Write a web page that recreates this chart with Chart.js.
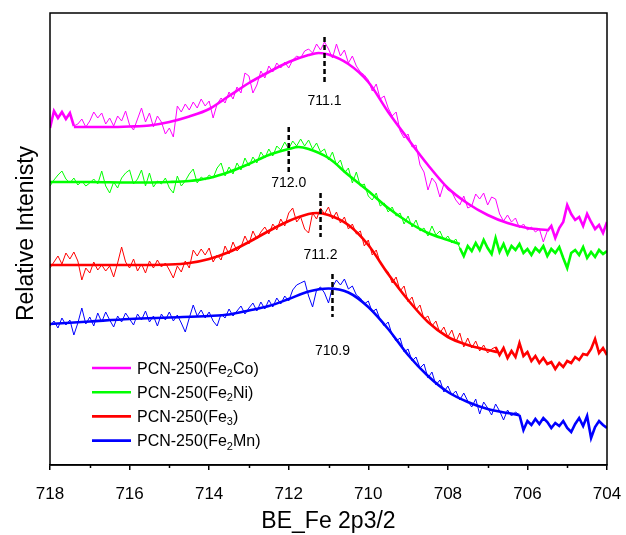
<!DOCTYPE html>
<html>
<head>
<meta charset="utf-8">
<title>Fe 2p3/2 spectra of PCN-250 samples</title>
<script src="https://cdn.jsdelivr.net/npm/chart.js@4/dist/chart.umd.min.js"></script>
<style>
  html, body { margin: 0; padding: 0; background: #ffffff; }
  #wrap { width: 626px; height: 535px; }
</style>
</head>
<body>
<div id="wrap"><canvas id="c" width="626" height="535"></canvas></div>
<script>
// Binding-energy grid of the scans (eV), 0.1 eV steps
const BE = [
  718.0, 717.9, 717.8, 717.7, 717.6, 717.5, 717.4, 717.3, 717.2, 717.1,
  717.0, 716.9, 716.8, 716.7, 716.6, 716.5, 716.4, 716.3, 716.2, 716.1,
  716.0, 715.9, 715.8, 715.7, 715.6, 715.5, 715.4, 715.3, 715.2, 715.1,
  715.0, 714.9, 714.8, 714.7, 714.6, 714.5, 714.4, 714.3, 714.2, 714.1,
  714.0, 713.9, 713.8, 713.7, 713.6, 713.5, 713.4, 713.3, 713.2, 713.1,
  713.0, 712.9, 712.8, 712.7, 712.6, 712.5, 712.4, 712.3, 712.2, 712.1,
  712.0, 711.9, 711.8, 711.7, 711.6, 711.5, 711.4, 711.3, 711.2, 711.1,
  711.0, 710.9, 710.8, 710.7, 710.6, 710.5, 710.4, 710.3, 710.2, 710.1,
  710.0, 709.9, 709.8, 709.7, 709.6, 709.5, 709.4, 709.3, 709.2, 709.1,
  709.0, 708.9, 708.8, 708.7, 708.6, 708.5, 708.4, 708.3, 708.2, 708.1,
  708.0, 707.9, 707.8, 707.7, 707.6, 707.5, 707.4, 707.3, 707.2, 707.1,
  707.0, 706.9, 706.8, 706.7, 706.6, 706.5, 706.4, 706.3, 706.2, 706.1,
  706.0, 705.9, 705.8, 705.7, 705.6, 705.5, 705.4, 705.3, 705.2, 705.1,
  705.0, 704.9, 704.8, 704.7, 704.6, 704.5, 704.4, 704.3, 704.2, 704.1,
  704.0
];

// Measured spectra (stacked, arbitrary units)
const coRaw = [
  372, 389, 382, 388, 381, 387, 374, 376, 381, 373,
  379, 388, 382, 387, 376, 382, 374, 384, 379, 389,
  375, 370, 381, 392, 378, 387, 373, 384, 378, 366,
  372, 363, 394, 388, 396, 390, 398, 392, 401, 394,
  399, 382, 396, 402, 397, 408, 401, 413, 407, 427,
  424, 407, 415, 429, 422, 434, 428, 437, 432, 438,
  432, 440, 444, 442, 449, 451, 447, 456, 450, 458,
  451, 442, 456, 444, 450, 437, 444, 434, 428, 425,
  420, 409, 416, 401, 404, 392, 384, 388, 369, 362,
  366, 353, 355, 335, 328, 310, 322, 317, 303, 316,
  310, 308, 300, 295, 304, 292, 294, 306, 301, 307,
  295, 303, 301, 286, 279, 285, 278, 282, 272, 276,
  270, 273, 268, 271, 258, 269, 274, 262, 272, 278,
  295, 286, 280, 283, 274, 286, 278, 271, 275, 267,
  278
];
const niRaw = [
  314, 320, 325, 329, 321, 317, 322, 315, 319, 314,
  317, 321, 316, 329, 314, 307, 318, 312, 322, 327,
  330, 316, 321, 330, 314, 327, 313, 319, 316, 322,
  312, 307, 324, 314, 319, 326, 331, 317, 323, 320,
  325, 322, 332, 337, 324, 333, 326, 337, 330, 342,
  334, 343, 337, 348, 342, 351, 344, 354, 350, 358,
  351, 359, 354, 361, 354, 360, 351, 357, 348, 351,
  340, 348, 335, 340, 327, 332, 317, 328, 314, 316,
  304, 300, 307, 294, 297, 288, 293, 284, 287, 276,
  284, 273, 280, 269, 272, 264, 274, 265, 269, 260,
  264, 257, 261, 252, 244, 254, 249, 257, 250, 260,
  252, 246, 262, 248, 256, 246, 254, 250, 256, 247,
  251, 245, 252, 248, 254, 244, 251, 247, 253, 242,
  232, 247, 250, 245, 253, 242, 248, 243, 250, 246,
  249
];
const fe3Raw = [
  232, 238, 244, 236, 247, 241, 248, 239, 220, 232,
  227, 238, 230, 235, 229, 234, 223, 237, 253, 238,
  232, 241, 229, 236, 227, 239, 232, 240, 233, 237,
  230, 222, 234, 228, 239, 232, 250, 244, 251, 245,
  252, 238, 245, 240, 254, 246, 258, 249, 253, 264,
  256, 269, 261, 268, 273, 266, 276, 270, 281, 274,
  287, 292, 278, 283, 271, 267, 287, 281, 292, 286,
  293, 281, 288, 277, 283, 271, 276, 266, 269, 254,
  260, 245, 250, 237, 232, 228, 217, 223, 209, 214,
  198, 203, 190, 195, 181, 184, 174, 179, 167, 173,
  163, 170, 158, 167, 153, 162, 152, 159, 149, 155,
  147, 151, 153, 145, 152, 142, 149, 143, 157, 144,
  148, 139, 144, 137, 142, 136, 138, 131, 137, 133,
  139, 137, 143, 140, 146, 145, 151, 161, 147, 152,
  145
];
const mnRaw = [
  174, 179, 172, 182, 175, 180, 165, 177, 192, 176,
  183, 174, 187, 178, 188, 180, 173, 184, 178, 187,
  181, 175, 186, 180, 189, 178, 184, 174, 186, 180,
  188, 179, 185, 177, 168, 182, 195, 184, 190, 182,
  188, 179, 174, 186, 182, 191, 184, 189, 194, 186,
  192, 197, 189, 198, 191, 200, 193, 202, 196, 204,
  199, 210, 215, 217, 219, 204, 193, 210, 213, 207,
  197, 213, 220, 215, 221, 211, 214, 205, 202, 196,
  199, 188, 191, 180, 174, 178, 165, 159, 162, 148,
  151, 139, 143, 132, 136, 122, 128, 115, 120, 108,
  114, 105, 109, 100, 107, 99, 93, 101, 86, 98,
  92, 85, 96, 89, 80, 90, 84, 88, 85, 70,
  79, 75, 81, 76, 82, 78, 72, 77, 74, 79,
  72, 68, 76, 82, 74, 84, 62, 73, 79, 75,
  72
];

// Fitted envelopes (BE, intensity)
const coFitBE = [717.4, 717.0, 716.5, 716.0, 715.5, 715.0, 714.5, 714.0, 713.5, 713.0, 712.5, 712.0, 711.5, 711.25, 711.0, 710.5, 710.0, 709.5, 709.0, 708.5, 708.0, 707.5, 707.0, 706.5, 706.0, 705.5];
const coFit   = [373, 373, 373, 373.5, 374.5, 378, 383.5, 391, 404, 417, 428, 438, 445, 447, 445.5, 436, 418, 388, 361, 335, 312, 296.5, 285, 277, 272, 270];
const niFitBE = [718.0, 717.0, 716.0, 715.0, 714.5, 714.0, 713.5, 713.0, 712.5, 712.0, 711.75, 711.5, 711.0, 710.5, 710.0, 709.5, 709.0, 708.5, 708.0, 707.7];
const niFit   = [318, 318, 317.5, 318, 319, 322, 328, 336, 345, 351, 353, 351, 342, 325, 309, 292, 278, 267, 260, 256];
const fe3FitBE = [718.0, 717.0, 716.0, 715.0, 714.5, 714.0, 713.5, 713.0, 712.5, 712.0, 711.5, 711.3, 711.0, 710.5, 710.0, 709.5, 709.0, 708.5, 708.0, 707.5, 707.0, 706.75];
const fe3Fit   = [235, 235, 235, 235.5, 237, 241, 248, 258, 269, 279, 286, 287, 285, 275, 255, 226, 200, 178, 163, 155, 150, 148];
const mnFitBE = [718.0, 717.0, 716.0, 715.0, 714.0, 713.5, 713.0, 712.5, 712.0, 711.5, 711.0, 710.5, 710.0, 709.5, 709.0, 708.5, 708.0, 707.5, 707.0, 706.5, 706.2];
const mnFit   = [176, 178.5, 181, 182.5, 184, 185.5, 189.5, 194, 201, 208.5, 211.5, 207.5, 193, 171, 145, 124, 108, 98, 91, 87, 85];

// Sample names and colours
const sampleNames  = ['PCN-250(Fe₂Co)', 'PCN-250(Fe₂Ni)', 'PCN-250(Fe₃)', 'PCN-250(Fe₂Mn)'];
const sampleColors = ['#FF00FF', '#00FF00', '#FF0000', '#0000FF'];

// Fe 2p3/2 peak positions (eV)
const peakBE = [711.1, 712.0, 711.2, 710.9];

// Axis ticks and titles
const majorTickStep = 2;
const minorTickBE = [717, 715, 713, 711, 709, 707, 705];
const xTitle = 'BE_Fe 2p3/2';
const yTitle = 'Relative Intenisty';

// Vertical extent of each peak marker and height of its label (intensity units)
const markerTop    = [463, 373, 307, 226];
const markerBottom = [418, 327, 263, 183];
const markerLabelY = [399, 317, 245, 149];

const FONT = "Arial, 'Liberation Sans', sans-serif";

const rawSets = [coRaw, niRaw, fe3Raw, mnRaw];
const fitBESets = [coFitBE, niFitBE, fe3FitBE, mnFitBE];
const fitSets = [coFit, niFit, fe3Fit, mnFit];

const datasets = [];

// Peak markers (dashed verticals)
peakBE.forEach((pe, i) => {
  datasets.push({
    label: 'peak ' + pe.toFixed(1),
    data: [{ x: pe, y: markerTop[i] }, { x: pe, y: markerBottom[i] }],
    borderColor: '#000000',
    borderWidth: 2.5,
    borderDash: [5, 3],
    borderCapStyle: 'butt',
    pointRadius: 0,
    fill: false
  });
});

sampleNames.forEach((name, s) => {
  const raw = rawSets[s];
  const fBE = fitBESets[s];
  const lo = Math.min(...fBE) - 1e-6;
  const hi = Math.max(...fBE) + 1e-6;
  const inside = e => e >= lo && e <= hi;

  // fitted curve
  datasets.push({
    label: name + ' fit',
    data: fBE.map((e, i) => ({ x: e, y: fitSets[s][i] })),
    borderColor: sampleColors[s],
    borderWidth: 2.6,
    cubicInterpolationMode: 'monotone',
    pointRadius: 0,
    fill: false
  });
  // raw data under the fit: thin line
  datasets.push({
    label: name,
    data: BE.map((e, i) => ({ x: e, y: inside(e) ? raw[i] : null })),
    borderColor: sampleColors[s],
    borderWidth: 1,
    tension: 0,
    spanGaps: false,
    pointRadius: 0,
    fill: false
  });
  // raw data outside the fitted window: heavy line
  datasets.push({
    label: name + ' tail',
    data: BE.map((e, i) => {
      const keep = !inside(e) ||
        (i > 0 && !inside(BE[i - 1])) ||
        (i < BE.length - 1 && !inside(BE[i + 1]));
      return { x: e, y: keep ? raw[i] : null };
    }),
    borderColor: sampleColors[s],
    borderWidth: 2.6,
    tension: 0,
    spanGaps: false,
    pointRadius: 0,
    fill: false
  });
});

// Draws text where Unicode subscript digits are rendered as smaller, lowered digits
function drawSubscripted(ctx, text, x, yBase, size) {
  const runs = [];
  for (const ch of text) {
    const code = ch.codePointAt(0);
    const sub = code >= 0x2080 && code <= 0x2089;
    const c = sub ? String.fromCharCode(48 + code - 0x2080) : ch;
    const last = runs[runs.length - 1];
    if (last && last.sub === sub) last.t += c; else runs.push({ t: c, sub });
  }
  let cx = x;
  for (const r of runs) {
    const fs = r.sub ? Math.round(size * 0.66) : size;
    ctx.font = fs + 'px ' + FONT;
    ctx.fillText(r.t, cx, yBase + (r.sub ? size * 0.2 : 0));
    cx += ctx.measureText(r.t).width;
  }
}

const decor = {
  id: 'decor',
  afterDraw(chart) {
    const { ctx, chartArea: a, scales: { x, y } } = chart;
    ctx.save();

    // frame
    ctx.strokeStyle = '#000000';
    ctx.lineWidth = 1.5;
    ctx.strokeRect(a.left, a.top, a.right - a.left, a.bottom - a.top);

    // minor ticks on the energy axis
    minorTickBE.forEach(v => {
      const px = Math.round(x.getPixelForValue(v)) + 0.5;
      ctx.beginPath();
      ctx.moveTo(px, a.bottom);
      ctx.lineTo(px, a.bottom + 3);
      ctx.stroke();
    });

    // intensity axis title, rotated
    ctx.save();
    ctx.translate(a.left - 17, (a.top + a.bottom) / 2 - 5.5);
    ctx.rotate(-Math.PI / 2);
    ctx.fillStyle = '#000000';
    ctx.font = '23px ' + FONT;
    ctx.textAlign = 'center';
    ctx.textBaseline = 'alphabetic';
    ctx.fillText(yTitle, 0, 0);
    ctx.restore();

    // peak position labels
    ctx.fillStyle = '#000000';
    ctx.font = '14px ' + FONT;
    ctx.textAlign = 'center';
    ctx.textBaseline = 'middle';
    peakBE.forEach((pe, i) => {
      ctx.fillText(pe.toFixed(1), x.getPixelForValue(pe), y.getPixelForValue(markerLabelY[i]));
    });

    // legend
    const lx = 92, lineLen = 39, tx = 137, firstRow = 368, rowGap = 24.2, fs = 16;
    ctx.textAlign = 'left';
    ctx.textBaseline = 'alphabetic';
    sampleNames.forEach((name, i) => {
      const ry = firstRow + i * rowGap;
      ctx.strokeStyle = sampleColors[i];
      ctx.lineWidth = 2.6;
      ctx.beginPath();
      ctx.moveTo(lx, ry);
      ctx.lineTo(lx + lineLen, ry);
      ctx.stroke();
      ctx.fillStyle = '#000000';
      drawSubscripted(ctx, name, tx, ry + 5.8, fs);
    });

    ctx.restore();
  }
};

new Chart(document.getElementById('c'), {
  type: 'line',
  data: { datasets },
  options: {
    responsive: false,
    maintainAspectRatio: false,
    animation: false,
    events: [],
    layout: { padding: { left: 0, right: 19, top: 13, bottom: 0 } },
    plugins: { legend: { display: false }, tooltip: { enabled: false } },
    elements: { point: { radius: 0 } },
    scales: {
      x: {
        type: 'linear',
        reverse: true,
        min: 704,
        max: 718,
        ticks: {
          stepSize: majorTickStep,
          color: '#000000',
          font: { size: 17, family: FONT },
          padding: 14,
          maxRotation: 0
        },
        grid: { drawOnChartArea: false, drawTicks: true, tickLength: 5, color: '#000000', lineWidth: 1.5 },
        border: { display: true, color: '#000000', width: 1.5 },
        title: {
          display: true,
          text: xTitle,
          color: '#000000',
          font: { size: 23, family: FONT },
          padding: { top: 0, bottom: 0 }
        },
        // fixed band for ticks and title; end labels may overhang the plot edges
        afterFit(scale) {
          scale.paddingLeft = 0;
          scale.paddingRight = 0;
          scale.height = 70;
        }
      },
      y: {
        type: 'linear',
        min: 35,
        max: 487,
        ticks: { display: false },
        grid: { display: false, drawTicks: false },
        border: { display: false },
        title: { display: false },
        // room on the left for the rotated axis title
        afterFit(scale) {
          scale.width = 50;
        }
      }
    }
  },
  plugins: [decor]
});
</script>
</body>
</html>
